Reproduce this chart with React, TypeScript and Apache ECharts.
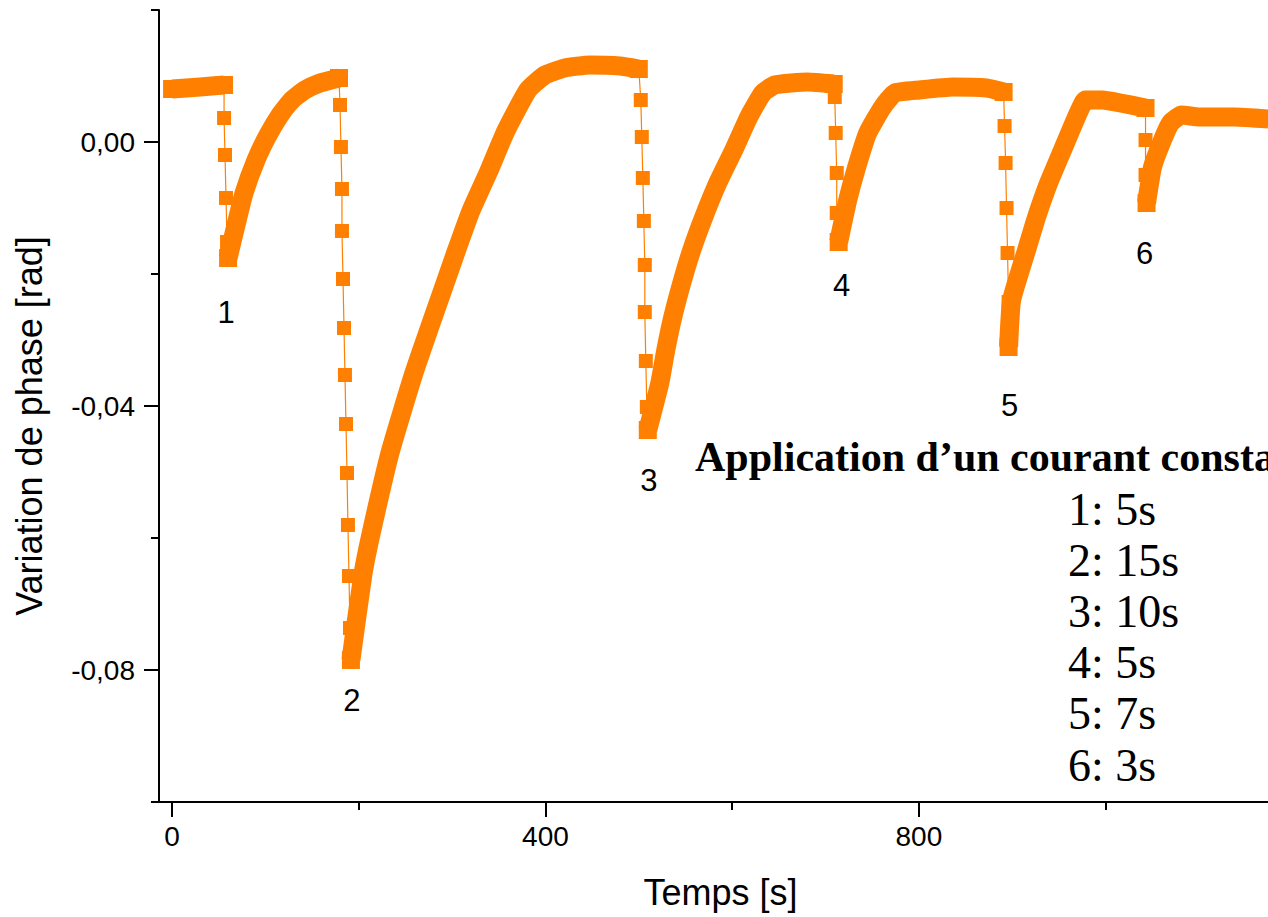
import React, { useEffect, useRef } from "react";
import * as echarts from "echarts";

// ---- Data (temps [s], variation de phase [rad]) ----
const courbe0 = [[0, 0.00803], [30, 0.00833], [55.7, 0.00864]];
const chute1 = [[55.7, 0.00864], [55.7, 0.00364], [56.7, -0.00197], [57.8, -0.00848], [58.9, -0.01515], [60.0, -0.01758]];
const courbe1 = [[60.0, -0.01758], [68.5, -0.01258], [77.1, -0.00773], [89.9, -0.00273], [102.8, 0.00106], [115.6, 0.00409], [128.5, 0.00636], [142.4, 0.00788], [158.5, 0.00894], [178.8, 0.0097]];
const chute2 = [[178.8, 0.0097], [179.9, 0.00561], [180.9, -0.00076], [182.0, -0.00712], [182.0, -0.01348], [183.1, -0.02076], [184.2, -0.02818], [185.2, -0.0353], [186.3, -0.04273], [187.4, -0.05015], [188.4, -0.05803], [189.5, -0.06576], [190.6, -0.07364], [191.6, -0.07848]];
const courbe2 = [[191.6, -0.07848], [204.5, -0.06545], [213.1, -0.05939], [233.4, -0.04712], [259.1, -0.035], [289.1, -0.02273], [304.1, -0.01667], [320.1, -0.01045], [339.4, -0.00439], [357.6, 0.00167], [381.2, 0.00788], [399.4, 0.01015], [420.8, 0.01121], [447.5, 0.01167], [479.7, 0.01152], [500.0, 0.01106]];
const chute3 = [[500.0, 0.01106], [502.1, 0.00636], [503.2, 0.00076], [504.3, -0.00545], [505.4, -0.01197], [506.4, -0.01864], [506.4, -0.02576], [507.5, -0.03318], [508.6, -0.04015], [509.6, -0.04364]];
const courbe3 = [[509.6, -0.04364], [522.5, -0.03652], [528.9, -0.03152], [536.4, -0.02652], [546.0, -0.02136], [556.7, -0.01636], [569.6, -0.01136], [584.6, -0.00621], [601.7, -0.00121], [617.8, 0.00379], [632.8, 0.00742], [645.6, 0.00864], [680.9, 0.00909], [708.8, 0.00879]];
const chute4 = [[708.8, 0.00879], [709.9, 0.00682], [710.9, 0.00136], [712.0, -0.0047], [712.0, -0.01076], [714.1, -0.01515]];
const courbe4 = [[714.1, -0.01515], [723.8, -0.00879], [733.4, -0.00379], [745.2, 0.00136], [761.2, 0.0053], [774.1, 0.00742], [800.9, 0.00788], [836.2, 0.00833], [872.6, 0.00818], [890.8, 0.00758]];
const chute5 = [[890.8, 0.00758], [891.8, 0.00242], [892.9, -0.00318], [893.9, -0.01], [895.0, -0.01682], [896.1, -0.02424], [896.1, -0.03106]];
const courbe5 = [[896.1, -0.03106], [899.4, -0.02394], [915.4, -0.01636], [926.1, -0.01136], [939.0, -0.00621], [953.9, -0.00121], [968.9, 0.00379], [978.6, 0.00636], [996.8, 0.00636], [1016.1, 0.00591], [1042.8, 0.00515]];
const chute6 = [[1042.8, 0.00515], [1042.8, 0.0003], [1042.8, -0.005], [1043.9, -0.00924]];
const courbe6 = [[1043.9, -0.00924], [1050.3, -0.00379], [1061.0, 0.0003], [1069.6, 0.00288], [1081.4, 0.00409], [1100.6, 0.00379], [1138.1, 0.00379], [1174.5, 0.00348]];

const courbes = [courbe0, courbe1, courbe2, courbe3, courbe4, courbe5, courbe6];
const chutes = [chute1, chute2, chute3, chute4, chute5, chute6];

const numeros = ["1", "2", "3", "4", "5", "6"];
const numerosPos = [[57.8, -0.0259], [192.7, -0.08455], [510.7, -0.05136], [717.3, -0.02167], [897.2, -0.03985], [1041.8, -0.01682]];

const titreLegende = "Application d\u2019un courant constant";
const lignesLegende = ["1: 5s", "2: 15s", "3: 10s", "4: 5s", "5: 7s", "6: 3s"];

const xMajor = [0, 400, 800];
const xMinor = [200, 600, 1000];
const yMajor = [-0.08, -0.04, 0];
const yMinor = [-0.1, -0.06, -0.02, 0.02];

const ORANGE = "#FF8000";
const SANS = "'Liberation Sans', Arial, sans-serif";
const SERIF = "'Liberation Serif', 'Times New Roman', serif";

export default function App() {
  const ref = useRef<HTMLDivElement>(null);

  useEffect(() => {
    if (!ref.current) return;
    const chart = echarts.init(ref.current, null, { renderer: "svg" });

    const xRange = { min: -14, max: 1174 };
    const yRange = { min: -0.1, max: 0.02 };

    const series: any[] = [];
    courbes.forEach((c, i) => {
      const last = c.length - 1;
      series.push({
        type: "line",
        name: "courbe" + i,
        data: c,
        showSymbol: true,
        showAllSymbol: true,
        symbol: "rect",
        symbolSize: (_v: any, p: any) => (p.dataIndex === 0 || p.dataIndex === last ? 18 : 0),
        itemStyle: { color: ORANGE },
        smooth: 0.15,
        lineStyle: { color: ORANGE, width: 19, cap: "butt", join: "round" },
        z: 2,
      });
    });
    chutes.forEach((c, i) => {
      series.push({
        type: "line",
        name: "chute" + (i + 1),
        data: c,
        symbol: "rect",
        symbolSize: 14,
        showAllSymbol: true,
        itemStyle: { color: ORANGE },
        lineStyle: { color: ORANGE, width: 1.2 },
        z: 3,
      });
    });
    series.push({
      type: "scatter",
      name: "numeros",
      data: numeros.map((n, i) => ({ name: n, value: numerosPos[i] })),
      symbolSize: 0.1,
      itemStyle: { color: "#ffffff" },
      label: {
        show: true,
        position: "inside",
        formatter: "{b}",
        color: "#000000",
        textBorderWidth: 0,
        opacity: 1,
        fontSize: 31,
        fontFamily: SANS,
      },
      z: 4,
    });

    const option: any = {
      animation: false,
      backgroundColor: "#fff",
      grid: { left: 159, top: 10, right: 0, bottom: 115, containLabel: false },
      xAxis: [
        {
          type: "value",
          ...xRange,
          position: "bottom",
          axisLine: { show: true, onZero: false, lineStyle: { color: "#000", width: 2 } },
          axisTick: { show: true, length: 15, customValues: xMajor, lineStyle: { color: "#000", width: 2 } },
          axisLabel: { customValues: xMajor, fontSize: 28, color: "#000", margin: 20, fontFamily: SANS },
          splitLine: { show: false },
          name: "Temps [s]",
          nameLocation: "middle",
          nameGap: 72,
          nameTextStyle: { fontSize: 36, color: "#000", fontFamily: SANS, padding: [0, 0, 0, 14] },
        },
        {
          type: "value",
          ...xRange,
          position: "bottom",
          axisLine: { show: false, onZero: false },
          axisTick: { show: true, length: 8, customValues: xMinor, lineStyle: { color: "#000", width: 2 } },
          axisLabel: { show: false },
          splitLine: { show: false },
        },
      ],
      yAxis: [
        {
          type: "value",
          ...yRange,
          position: "left",
          axisLine: { show: true, onZero: false, lineStyle: { color: "#000", width: 2 } },
          axisTick: { show: true, length: 15, customValues: yMajor, lineStyle: { color: "#000", width: 2 } },
          axisLabel: {
            customValues: yMajor,
            fontSize: 28,
            color: "#000",
            margin: 24,
            fontFamily: SANS,
            formatter: (v: number) => (Math.abs(v) < 1e-9 ? "0,00" : v.toFixed(2).replace(".", ",")),
          },
          splitLine: { show: false },
          name: "Variation de phase [rad]",
          nameLocation: "middle",
          nameGap: 112,
          nameTextStyle: { fontSize: 36, color: "#000", fontFamily: SANS, padding: [0, 40, 0, 0] },
        },
        {
          type: "value",
          ...yRange,
          position: "left",
          axisLine: { show: false, onZero: false },
          axisTick: { show: true, length: 8, customValues: yMinor, lineStyle: { color: "#000", width: 2 } },
          axisLabel: { show: false },
          splitLine: { show: false },
        },
      ],
      graphic: [
        {
          type: "text",
          left: 695,
          top: 436,
          style: { text: titreLegende, font: `bold 42px ${SERIF}`, fill: "#000" },
          z: 10,
        },
        ...lignesLegende.map((t, i) => ({
          type: "text",
          left: 1068,
          top: 486 + i * 51.2,
          style: { text: t, font: `46px ${SERIF}`, fill: "#000" },
          z: 10,
        })),
      ],
      series,
    };

    chart.setOption(option);
    return () => chart.dispose();
  }, []);

  return (
    <div style={{ position: "fixed", left: 0, top: 0, width: 1268, height: 917, background: "#fff", overflow: "hidden" }}>
      <div ref={ref} style={{ width: 1268, height: 917 }} />
    </div>
  );
}
